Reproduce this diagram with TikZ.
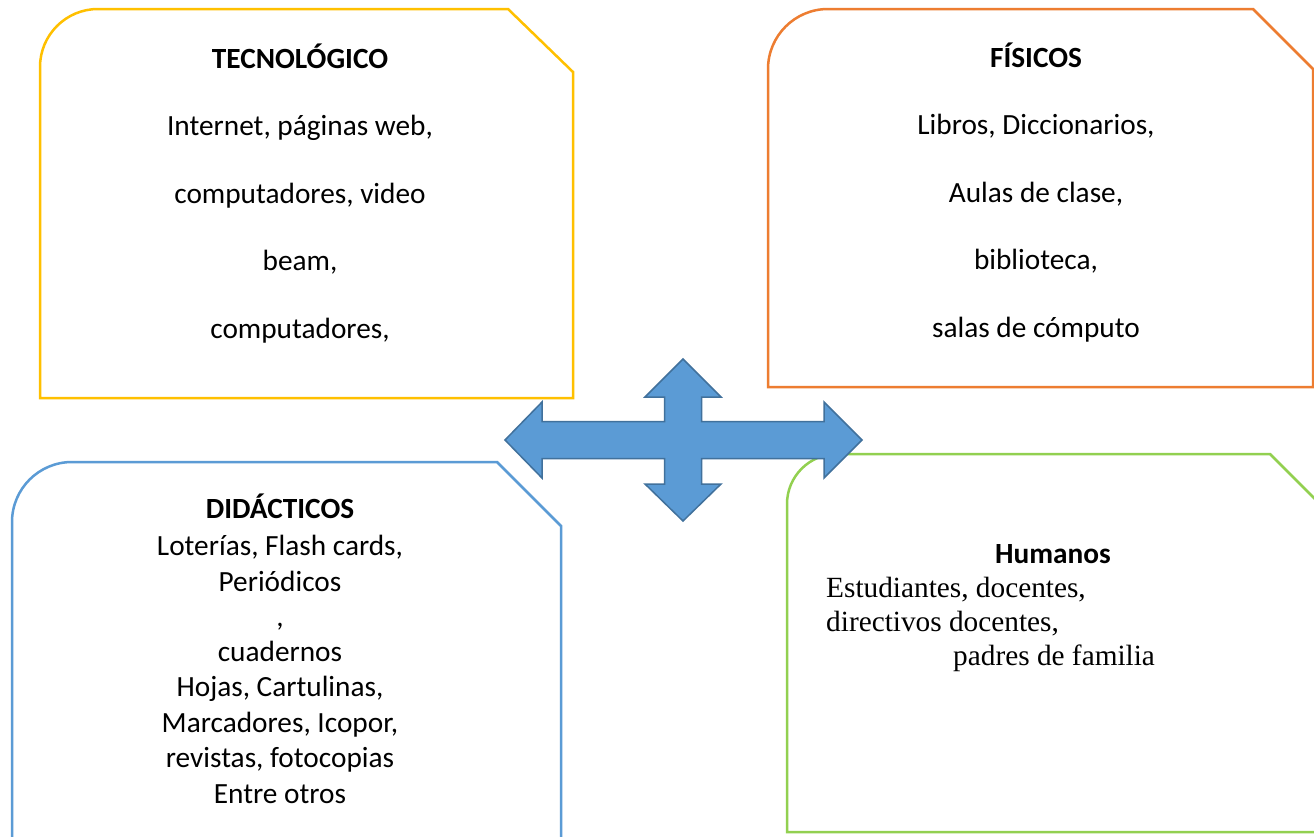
\documentclass[tikz,border=0pt]{standalone}
\usepackage{fontspec}
\setmainfont{Carlito}
\newfontfamily\tnr{Liberation Serif}
\definecolor{cyellow}{HTML}{FFC000}
\definecolor{corange}{HTML}{ED7D31}
\definecolor{cblue}{HTML}{5B9BD5}
\definecolor{cgreen}{HTML}{92D050}
\definecolor{cblueedge}{HTML}{41719C}
\begin{document}
\begin{tikzpicture}[x=1pt,y=-1pt,
  box/.style={line width=2.5pt, line join=miter},
  lbl/.style={font=\fontsize{29.3}{35}\selectfont, inner sep=0pt, anchor=base},
  ttl/.style={lbl, font=\fontsize{29.3}{35}\selectfont\bfseries},
  serif/.style={lbl, font=\fontsize{29.3}{35}\selectfont\tnr, anchor=base west},
  quad/.style={fill=cblue, draw=cblueedge, line width=1.5pt, line join=miter}]
\useasboundingbox (0,0) rectangle (1314,836);
\clip (0,0) rectangle (1314,836);
\fill[white] (0,0) rectangle (1314,836);

% Tecnologico box
\draw[box, cyellow] (573,398) -- (40,398) -- (40,67) arc[start angle=180, end angle=270, radius=58] -- (508,9) -- (573,72) -- cycle;
% Fisicos box
\draw[box, corange] (1313,387) -- (768,387) -- (768,69) arc[start angle=180, end angle=270, radius=60] -- (1253,9) -- (1313,69) -- cycle;
% Didacticos box
\draw[box, cblue] (561,870) -- (12,870) -- (12,522) arc[start angle=180, end angle=270, radius=60] -- (497,462) -- (561,526) -- cycle;
% Humanos box
\draw[box, cgreen] (1333,832) -- (787,832) -- (787,504) arc[start angle=180, end angle=270, radius=50] -- (1270,454) -- (1333,517) -- cycle;

% Tecnologico text
\node[ttl] (t0) at (300,68) {TECNOLÓGICO};
\node[lbl] (t1) at (300,135) {Internet, páginas web,};
\node[lbl] (t2) at (300,203) {computadores, video};
\node[lbl] (t3) at (300,270) {beam,};
\node[lbl] (t4) at (300,338) {computadores,};

% Fisicos text
\node[ttl] (f0) at (1036,67) {FÍSICOS};
\node[lbl] (f1) at (1036,134) {Libros, Diccionarios,};
\node[lbl] (f2) at (1036,202) {Aulas de clase,};
\node[lbl] (f3) at (1036,269) {biblioteca,};
\node[lbl] (f4) at (1036,337) {salas de cómputo};

% Didacticos text
\node[ttl] (d0) at (280,518) {DIDÁCTICOS};
\node[lbl] (d1) at (280,555) {Loterías, Flash cards,};
\node[lbl] (d2) at (280,591) {Periódicos};
\node[lbl] (d3) at (280,626) {,};
\node[lbl] (d4) at (280,661) {cuadernos};
\node[lbl] (d5) at (280,696) {Hojas, Cartulinas,};
\node[lbl] (d6) at (280,732) {Marcadores, Icopor,};
\node[lbl] (d7) at (280,767) {revistas, fotocopias};
\node[lbl] (d8) at (280,803) {Entre otros};

% Humanos text
\node[ttl] (h0) at (1053,563) {Humanos};
\node[serif] (h1) at (826,597) {Estudiantes, docentes,};
\node[serif] (h2) at (826,631) {directivos docentes,};
\node[serif] (h3) at (953,665) {padres de familia};

% Quad arrow
\draw[quad] (505,440) -- (542,402) -- (542,421.5) -- (664.5,421.5) -- (664.5,397) -- (645,397) -- (683,359) -- (721,397) -- (701.5,397) -- (701.5,421.5) -- (824,421.5) -- (824,402) -- (862,440) -- (824,478) -- (824,458.5) -- (701.5,458.5) -- (701.5,484) -- (721,484) -- (683,521) -- (645,484) -- (664.5,484) -- (664.5,458.5) -- (542,458.5) -- (542,478) -- cycle;
\end{tikzpicture}
\end{document}
